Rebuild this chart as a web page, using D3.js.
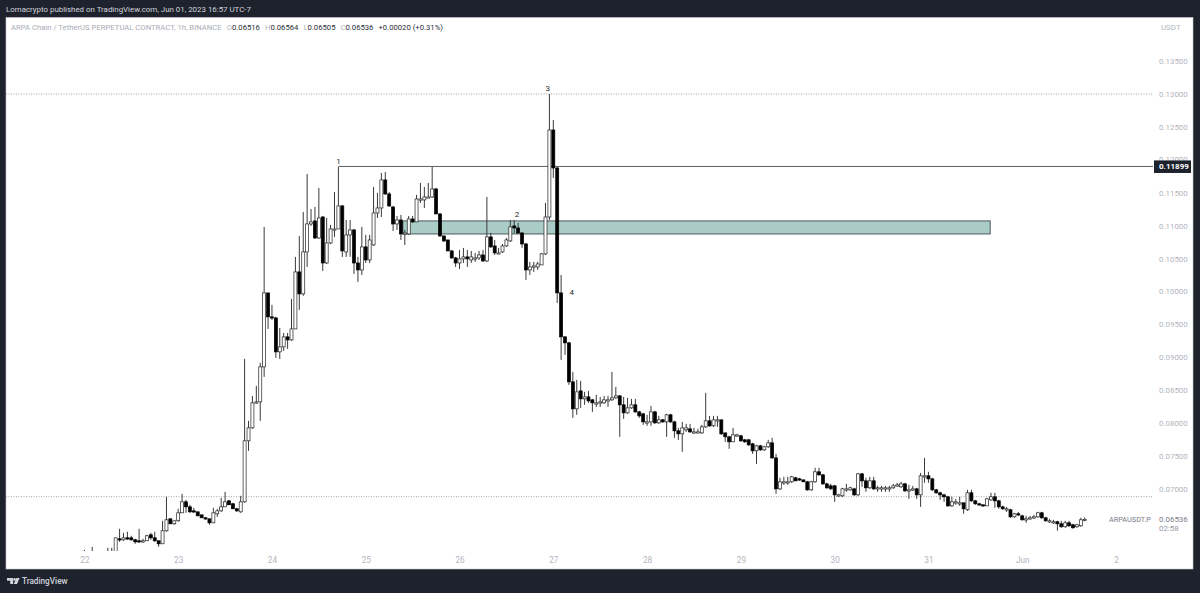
<!DOCTYPE html>
<html>
<head>
<meta charset="utf-8">
<script src="https://d3js.org/d3.v7.min.js"></script>
<style>
  html, body { margin: 0; padding: 0; background: #1e222d; }
  svg { display: block; }
  text { font-family: Roboto, sans-serif; }
</style>
</head>
<body>
<div id="chart"></div>
<script>
// one line per day, 24 hourly candles from May 22 00:00
var opens = [
  0.05982,0.05967,0.05997,0.06012,0.05982,0.05997,0.06027,0.06012,0.05982,0.06240,0.06225,0.06255,0.06255,0.06225,0.06210,0.06194,0.06210,0.06301,0.06255,0.06210,0.06164,0.06362,0.06544,0.06468,
  0.06514,0.06635,0.06802,0.06726,0.06665,0.06650,0.06604,0.06559,0.06544,0.06483,0.06620,0.06665,0.06726,0.06817,0.06772,0.06696,0.06650,0.06802,0.07729,0.07926,0.08321,0.08321,0.08853,0.09977,
  0.09613,0.09597,0.09081,0.09157,0.09309,0.09263,0.09430,0.10296,0.09962,0.10600,0.11025,0.11071,0.10812,0.11131,0.10432,0.10736,0.10949,0.10949,0.11299,0.10600,0.10858,0.10934,0.10432,0.10326,
  0.10676,0.10478,0.10706,0.11192,0.11268,0.11694,0.11481,0.11283,0.11025,0.11086,0.10873,0.10873,0.11101,0.11056,0.11405,0.11390,0.11435,0.11435,0.11557,0.11177,0.10843,0.10782,0.10615,0.10509,
  0.10432,0.10494,0.10524,0.10478,0.10509,0.10509,0.10554,0.10463,0.10828,0.10691,0.10585,0.10600,0.10691,0.10767,0.10995,0.10964,0.10888,0.10721,0.10326,0.10387,0.10372,0.10402,0.10570,0.11131,
  0.12453,0.11876,0.09977,0.09309,0.09218,0.08625,0.08215,0.08488,0.08367,0.08397,0.08352,0.08306,0.08306,0.08306,0.08352,0.08352,0.08382,0.08412,0.08276,0.08154,0.08230,0.08276,0.08169,0.08139,
  0.08017,0.08017,0.08169,0.08002,0.08048,0.08017,0.08124,0.08017,0.07881,0.07835,0.07896,0.07911,0.07865,0.07865,0.07850,0.07941,0.08033,0.07957,0.08048,0.08048,0.07850,0.07790,0.07714,0.07805,
  0.07805,0.07744,0.07744,0.07683,0.07577,0.07653,0.07592,0.07638,0.07698,0.07470,0.06999,0.07106,0.07106,0.07106,0.07167,0.07151,0.07136,0.07106,0.06984,0.07106,0.07258,0.07212,0.07075,0.07045,
  0.07045,0.06908,0.06893,0.06999,0.06984,0.06999,0.06908,0.07227,0.07121,0.07015,0.07121,0.07015,0.07015,0.07015,0.07015,0.07015,0.07060,0.07030,0.07075,0.06984,0.06999,0.06999,0.06908,0.07197,
  0.07197,0.07151,0.06984,0.06939,0.06908,0.06878,0.06741,0.06802,0.06787,0.06787,0.06681,0.06939,0.06817,0.06772,0.06757,0.06741,0.06832,0.06878,0.06817,0.06726,0.06696,0.06681,0.06574,0.06620,
  0.06589,0.06544,0.06559,0.06574,0.06574,0.06635,0.06559,0.06514,0.06499,0.06499,0.06468,0.06423,0.06483,0.06453,0.06423,0.06438,0.06516
];
var highs = [
  0.06073,0.06027,0.06119,0.06043,0.06027,0.06043,0.06104,0.06104,0.06255,0.06392,0.06331,0.06347,0.06286,0.06240,0.06392,0.06240,0.06301,0.06331,0.06347,0.06210,0.06514,0.06878,0.06544,0.06514,
  0.06696,0.06924,0.06832,0.06757,0.06711,0.06650,0.06604,0.06574,0.06544,0.06711,0.06696,0.06863,0.06954,0.06832,0.06787,0.06711,0.06893,0.08974,0.08033,0.08412,0.08564,0.08914,0.10980,0.09977,
  0.09795,0.09613,0.09445,0.09369,0.09369,0.09886,0.10524,0.10843,0.11208,0.11785,0.11253,0.11283,0.11572,0.11147,0.11116,0.11010,0.11511,0.11891,0.11314,0.11086,0.11086,0.10949,0.10524,0.10980,
  0.10858,0.10858,0.11587,0.11496,0.11800,0.11815,0.11511,0.11299,0.11147,0.11162,0.10934,0.11147,0.11147,0.11466,0.11648,0.11587,0.11648,0.11891,0.11572,0.11192,0.10843,0.10782,0.10630,0.10524,
  0.10630,0.10661,0.10630,0.10615,0.10585,0.10615,0.10630,0.11435,0.10888,0.10782,0.10661,0.10721,0.10812,0.11086,0.11086,0.11040,0.10904,0.10736,0.10448,0.10448,0.10448,0.10585,0.11344,0.13000,
  0.12605,0.11891,0.10250,0.09324,0.09233,0.08777,0.08655,0.08640,0.08473,0.08488,0.08367,0.08427,0.08397,0.08412,0.08412,0.08777,0.08549,0.08427,0.08397,0.08382,0.08367,0.08367,0.08185,0.08154,
  0.08124,0.08261,0.08185,0.08108,0.08063,0.08139,0.08139,0.08033,0.07926,0.08017,0.07987,0.07987,0.07926,0.07911,0.07972,0.08458,0.08108,0.08108,0.08108,0.08048,0.07850,0.07805,0.07926,0.07835,
  0.07820,0.07759,0.07759,0.07698,0.07668,0.07668,0.07653,0.07744,0.07775,0.07531,0.07167,0.07182,0.07182,0.07197,0.07182,0.07167,0.07136,0.07121,0.07121,0.07319,0.07319,0.07227,0.07091,0.07075,
  0.07060,0.06924,0.07015,0.07075,0.07030,0.07015,0.07242,0.07242,0.07167,0.07182,0.07182,0.07045,0.07045,0.07045,0.07045,0.07075,0.07091,0.07106,0.07091,0.07060,0.07045,0.07015,0.07242,0.07470,
  0.07258,0.07167,0.06999,0.06954,0.06924,0.06893,0.06878,0.06847,0.06878,0.06787,0.06984,0.06984,0.06832,0.06787,0.06757,0.06863,0.06939,0.06939,0.06832,0.06741,0.06726,0.06696,0.06635,0.06650,
  0.06604,0.06589,0.06589,0.06604,0.06650,0.06650,0.06574,0.06544,0.06529,0.06514,0.06514,0.06514,0.06514,0.06468,0.06468,0.06559,0.06564
];
var lows = [
  0.05921,0.05906,0.05952,0.05952,0.05936,0.05952,0.05982,0.05967,0.05967,0.06194,0.06210,0.06225,0.06210,0.06164,0.06179,0.06179,0.06210,0.06225,0.06194,0.06119,0.06164,0.06347,0.06468,0.06453,
  0.06499,0.06635,0.06635,0.06635,0.06635,0.06589,0.06559,0.06529,0.06453,0.06483,0.06574,0.06650,0.06726,0.06757,0.06696,0.06650,0.06635,0.06787,0.07577,0.07911,0.08291,0.08033,0.08701,0.09430,
  0.09567,0.08990,0.08974,0.09096,0.09126,0.09248,0.09430,0.09719,0.09932,0.10372,0.10995,0.10797,0.10797,0.10311,0.10417,0.10721,0.10828,0.10949,0.10524,0.10524,0.10524,0.10265,0.10144,0.10250,
  0.10432,0.10432,0.10691,0.11116,0.11131,0.11466,0.11283,0.10918,0.10934,0.10782,0.10706,0.10858,0.11040,0.11056,0.11344,0.11268,0.11420,0.11420,0.11177,0.10828,0.10752,0.10615,0.10494,0.10372,
  0.10341,0.10432,0.10372,0.10432,0.10448,0.10478,0.10448,0.10448,0.10661,0.10554,0.10570,0.10585,0.10676,0.10752,0.10888,0.10873,0.10661,0.10175,0.10250,0.10296,0.10326,0.10402,0.10554,0.11086,
  0.11724,0.09825,0.08959,0.09035,0.08579,0.08078,0.08124,0.08230,0.08276,0.08306,0.08169,0.08245,0.08245,0.08291,0.08245,0.08336,0.08367,0.07790,0.08063,0.08139,0.08215,0.08154,0.08078,0.07972,
  0.07957,0.07957,0.07987,0.07987,0.08002,0.07790,0.08002,0.07775,0.07744,0.07562,0.07865,0.07850,0.07835,0.07850,0.07835,0.07926,0.07941,0.07941,0.07941,0.07820,0.07714,0.07607,0.07714,0.07790,
  0.07714,0.07698,0.07653,0.07531,0.07379,0.07577,0.07577,0.07622,0.07455,0.06924,0.06984,0.07060,0.07060,0.07091,0.07121,0.07121,0.07106,0.06969,0.06969,0.07091,0.07197,0.07060,0.06999,0.06984,
  0.06802,0.06878,0.06878,0.06954,0.06969,0.06893,0.06893,0.07030,0.06954,0.06999,0.06984,0.06954,0.06954,0.06954,0.06954,0.06999,0.07030,0.07015,0.06954,0.06847,0.06969,0.06847,0.06726,0.07091,
  0.07091,0.06969,0.06924,0.06832,0.06802,0.06726,0.06726,0.06757,0.06741,0.06620,0.06665,0.06802,0.06757,0.06741,0.06726,0.06741,0.06817,0.06711,0.06696,0.06681,0.06650,0.06559,0.06559,0.06589,
  0.06514,0.06483,0.06529,0.06544,0.06559,0.06544,0.06499,0.06483,0.06468,0.06362,0.06408,0.06408,0.06423,0.06392,0.06408,0.06423,0.06505
];
var closes = [
  0.05997,0.05982,0.06027,0.05982,0.05997,0.06012,0.06012,0.06043,0.06255,0.06225,0.06255,0.06240,0.06225,0.06194,0.06194,0.06210,0.06286,0.06255,0.06210,0.06164,0.06362,0.06529,0.06468,0.06514,
  0.06635,0.06802,0.06726,0.06650,0.06650,0.06589,0.06559,0.06544,0.06483,0.06635,0.06665,0.06726,0.06802,0.06757,0.06696,0.06665,0.06802,0.07729,0.07926,0.08306,0.08321,0.08853,0.09977,0.09613,
  0.09597,0.09081,0.09157,0.09309,0.09263,0.09430,0.10296,0.09962,0.10600,0.11025,0.11056,0.10812,0.11116,0.10432,0.10736,0.10949,0.10949,0.11299,0.10615,0.10858,0.10934,0.10432,0.10326,0.10676,
  0.10478,0.10782,0.11192,0.11268,0.11694,0.11481,0.11299,0.11025,0.11086,0.10873,0.10888,0.11101,0.11056,0.11405,0.11405,0.11435,0.11435,0.11557,0.11177,0.10843,0.10767,0.10615,0.10509,0.10432,
  0.10494,0.10524,0.10494,0.10524,0.10509,0.10554,0.10463,0.10828,0.10676,0.10585,0.10585,0.10691,0.10782,0.10980,0.10964,0.10888,0.10721,0.10326,0.10372,0.10387,0.10417,0.10570,0.11131,0.12453,
  0.11876,0.09977,0.09309,0.09218,0.08625,0.08215,0.08473,0.08367,0.08397,0.08336,0.08306,0.08306,0.08321,0.08352,0.08352,0.08382,0.08412,0.08276,0.08154,0.08230,0.08276,0.08169,0.08108,0.08017,
  0.08017,0.08169,0.08002,0.08048,0.08017,0.08124,0.08017,0.07881,0.07835,0.07926,0.07926,0.07865,0.07865,0.07865,0.07941,0.08033,0.07957,0.08048,0.08048,0.07835,0.07790,0.07714,0.07820,0.07820,
  0.07729,0.07714,0.07668,0.07577,0.07653,0.07592,0.07638,0.07698,0.07470,0.06999,0.07106,0.07106,0.07106,0.07182,0.07121,0.07136,0.07106,0.06984,0.07106,0.07258,0.07212,0.07075,0.07015,0.06999,
  0.06908,0.06908,0.06999,0.06999,0.07015,0.06908,0.07227,0.07121,0.07015,0.07121,0.06999,0.07015,0.07015,0.07015,0.07015,0.07045,0.07060,0.07075,0.06969,0.06984,0.06999,0.06908,0.07197,0.07197,
  0.07151,0.06984,0.06939,0.06908,0.06878,0.06741,0.06802,0.06802,0.06787,0.06696,0.06939,0.06817,0.06772,0.06757,0.06741,0.06847,0.06878,0.06817,0.06726,0.06696,0.06696,0.06574,0.06620,0.06604,
  0.06529,0.06544,0.06559,0.06574,0.06635,0.06559,0.06514,0.06514,0.06499,0.06468,0.06423,0.06483,0.06438,0.06408,0.06453,0.06529,0.06536
];

var dayTicks = [0, 24, 48, 72, 96, 120, 144, 168, 192, 216, 240, 264];
var dayLabels = ["22", "23", "24", "25", "26", "27", "28", "29", "30", "31", "Jun", "2"];
var priceTicks = [0.135, 0.13, 0.125, 0.115, 0.11, 0.105, 0.1, 0.095, 0.09, 0.085, 0.08, 0.075, 0.07];
var dottedLevels = [0.13, 0.0688];
var resistance = 0.11899, resistanceStart = 65;
var zoneTop = 0.11071, zoneBottom = 0.10873, zoneStart = 81.5, zoneEnd = 231.8;
var waveLabels = ["1", "2", "3", "4"];
var waveIndex = [65, 110.7, 118.6, 124.7];
var wavePrice = [0.1198, 0.11177, 0.13091, 0.09981];

var width = 1200, height = 593;
var svg = d3.select("#chart").append("svg").attr("width", width).attr("height", height);

var x = d3.scaleLinear().domain([0, 264]).range([84.4, 1116]);
var y = d3.scaleLinear().domain([0.07, 0.13]).range([488.8, 94]);

// white panel
svg.append("rect").attr("x", 6).attr("y", 17.5).attr("width", 1187).attr("height", 551.5)
  .attr("fill", "#fff").attr("stroke", "#c8cad0").attr("stroke-width", 0.6);

svg.append("clipPath").attr("id", "pane").append("rect")
  .attr("x", 6).attr("y", 18).attr("width", 1147).attr("height", 533);

var pane = svg.append("g").attr("clip-path", "url(#pane)");

// dotted levels
pane.selectAll("line.level").data(dottedLevels).enter().append("line")
  .attr("class", "level")
  .attr("x1", 6).attr("x2", 1153)
  .attr("y1", d => y(d)).attr("y2", d => y(d))
  .attr("stroke", "#8a8d94").attr("stroke-width", 0.8).attr("stroke-dasharray", "1 1.5");

// supply zone
pane.append("rect")
  .attr("x", x(zoneStart)).attr("y", y(zoneTop))
  .attr("width", x(zoneEnd) - x(zoneStart)).attr("height", y(zoneBottom) - y(zoneTop))
  .attr("fill", "#a9cdc6").attr("stroke", "#50565c").attr("stroke-width", 1);

// resistance line
pane.append("line")
  .attr("x1", x(resistanceStart)).attr("x2", 1153)
  .attr("y1", y(resistance)).attr("y2", y(resistance))
  .attr("stroke", "#5c6066").attr("stroke-width", 1);

var candles = d3.range(opens.length);
var candleG = pane.append("g");

candleG.selectAll("line.wick").data(candles).enter().append("line")
  .attr("class", "wick")
  .attr("x1", i => x(i)).attr("x2", i => x(i))
  .attr("y1", i => y(highs[i])).attr("y2", i => y(lows[i]))
  .attr("stroke", "#3a3a3a").attr("stroke-width", 1);

candleG.selectAll("rect.body").data(candles).enter().append("rect")
  .attr("class", "body")
  .attr("x", i => x(i) - 1.5)
  .attr("width", 3)
  .attr("y", i => y(Math.max(opens[i], closes[i])))
  .attr("height", i => Math.max(1.2, Math.abs(y(opens[i]) - y(closes[i]))))
  .attr("fill", i => closes[i] >= opens[i] ? "#fff" : "#000")
  .attr("stroke", i => closes[i] >= opens[i] ? "#222" : "#000")
  .attr("stroke-width", 0.7);

// drawing labels
svg.selectAll("text.wave").data(waveLabels).enter().append("text")
  .attr("class", "wave")
  .attr("x", (d, i) => x(waveIndex[i]))
  .attr("y", (d, i) => y(wavePrice[i]))
  .attr("dy", "0.35em")
  .attr("text-anchor", "middle")
  .attr("font-size", 8).attr("fill", "#26282c")
  .text(d => d);

// axes
var xAxis = d3.axisBottom(x).tickValues(dayTicks).tickSize(0)
  .tickFormat((d, i) => dayLabels[i]);
var xG = svg.append("g").attr("transform", "translate(0,551)").call(xAxis);
xG.select(".domain").remove();
xG.selectAll("text").attr("font-size", 8.2).attr("fill", "#b2b5be").attr("dy", "0.72em").attr("y", 6.5);

var yAxis = d3.axisRight(y).tickValues(priceTicks).tickSize(0).tickFormat(d3.format(".5f"));
var yG = svg.append("g").attr("transform", "translate(1159,0)").call(yAxis);
yG.select(".domain").remove();
yG.selectAll("text").attr("font-size", 7.9).attr("fill", "#b2b5be").attr("x", 0);

// the 0.12000 tick sits mostly behind the price tag, only its top peeks out
svg.append("clipPath").attr("id", "tickCut").append("rect")
  .attr("x", 1155).attr("y", 150).attr("width", 38).attr("height", y(0.11899) - 6 - 150);
svg.append("text").attr("x", 1159).attr("y", y(0.12)).attr("dy", "0.32em")
  .attr("font-size", 7.9).attr("fill", "#b2b5be").attr("clip-path", "url(#tickCut)").text("0.12000");

// price tag for the resistance line
svg.append("rect").attr("x", 1154.5).attr("y", y(resistance) - 5.5).attr("width", 36).attr("height", 11.5)
  .attr("fill", "#1e222d").attr("stroke", "#1e222d");
svg.append("text").attr("x", 1159).attr("y", y(resistance)).attr("dy", "0.35em")
  .attr("font-size", 8).attr("font-weight", 700).attr("fill", "#fff").text("0.11899");

// last price block
svg.append("text").attr("x", 1109).attr("y", y(closes[closes.length - 1])).attr("dy", "0.35em")
  .attr("font-size", 7.3).attr("fill", "#787b86").text("ARPAUSDT.P");
svg.append("text").attr("x", 1159).attr("y", y(closes[closes.length - 1])).attr("dy", "0.35em")
  .attr("font-size", 7.9).attr("fill", "#787b86").text(d3.format(".5f")(closes[closes.length - 1]));
svg.append("text").attr("x", 1159).attr("y", 528.5).attr("dy", "0.35em")
  .attr("font-size", 7.9).attr("fill", "#9598a1").text("02:58");
svg.append("text").attr("x", 1161).attr("y", 27).attr("dy", "0.35em")
  .attr("font-size", 7.9).attr("fill", "#b2b5be").text("USDT");

// header
svg.append("text").attr("x", 6).attr("y", 9.5).attr("dy", "0.35em")
  .attr("font-size", 7.9).attr("fill", "#d1d4dc")
  .text("Lomacrypto published on TradingView.com, Jun 01, 2023 16:57 UTC-7");

var legend = svg.append("text").attr("x", 11).attr("y", 27).attr("dy", "0.35em").attr("font-size", 7.7);
legend.append("tspan").attr("fill", "#a9acb5").text("ARPA Chain / TetherUS PERPETUAL CONTRACT, 1h, BINANCE");
var ohlcNames = ["O", "H", "L", "C"];
var ohlcValues = ["0.06516", "0.06564", "0.06505", "0.06536"];
ohlcNames.forEach(function(n, i) {
  legend.append("tspan").attr("dx", 5).attr("fill", "#b2b5be").text(n);
  legend.append("tspan").attr("fill", "#2a2e39").text(ohlcValues[i]);
});
legend.append("tspan").attr("dx", 5).attr("fill", "#2a2e39").text("+0.00020 (+0.31%)");

// footer logo and name
var logo = svg.append("g").attr("fill", "#d1d4dc");
logo.append("path").attr("d", "M7 578h6.2v6h-3v-3.2H7z");
logo.append("circle").attr("cx", 14.6).attr("cy", 579.4).attr("r", 1.3);
logo.append("path").attr("d", "M16.4 578h3.2l-2.6 6h-3.2z");
svg.append("text").attr("x", 22).attr("y", 581.5).attr("dy", "0.35em")
  .attr("font-size", 8.2).attr("font-weight", 500).attr("fill", "#d1d4dc").text("TradingView");
</script>
</body>
</html>
